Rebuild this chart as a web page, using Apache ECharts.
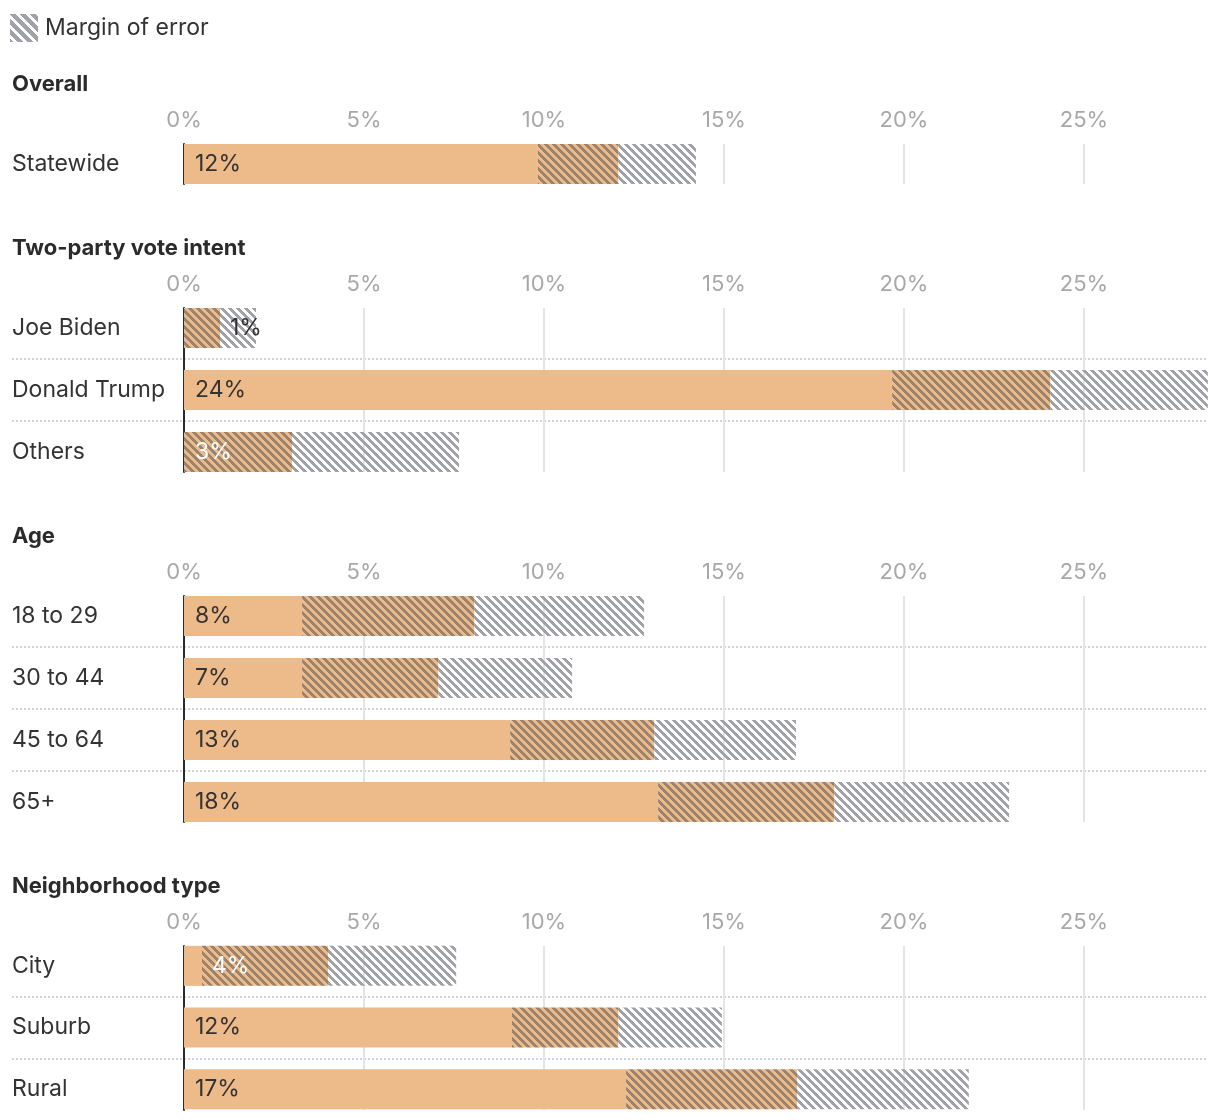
<!DOCTYPE html>
<html>
<head>
<meta charset="utf-8">
<script src="https://cdn.jsdelivr.net/npm/echarts@6/dist/echarts.min.js"></script>
<style>
  html, body { margin: 0; padding: 0; background: #fff; }
  #chart { width: 1220px; height: 1120px; }
</style>
</head>
<body>
<div id="chart"></div>
<script>
// ---------- DATA ----------
const sectionTitles = ['Overall', 'Two-party vote intent', 'Age', 'Neighborhood type'];

const overallCats = ['Statewide'];
const overallLow  = [9.83];
const overallEst  = [12.06];
const overallHigh = [14.22];

const partyCats = ['Joe Biden', 'Donald Trump', 'Others'];
const partyLow  = [0, 19.67, 0];
const partyEst  = [1.0, 24.06, 3.0];
const partyHigh = [2.0, 28.44, 7.64];

const ageCats = ['18 to 29', '30 to 44', '45 to 64', '65+'];
const ageLow  = [3.28, 3.28, 9.06, 13.17];
const ageEst  = [8.06, 7.06, 13.06, 18.06];
const ageHigh = [12.78, 10.78, 17.0, 22.92];

const hoodCats = ['City', 'Suburb', 'Rural'];
const hoodLow  = [0.5, 9.11, 12.28];
const hoodEst  = [4.0, 12.06, 17.03];
const hoodHigh = [7.56, 14.94, 21.8];

const tickValues = [0, 5, 10, 15, 20, 25];
const legendLabel = 'Margin of error';

// ---------- STYLE / LAYOUT ----------
const FONT = 'Inter, "Noto Sans", sans-serif';
const ORANGE = '#edba89';
const PLOT_LEFT = 184, PLOT_RIGHT = 1208, LABEL_LEFT = 12;
const PX_PER_UNIT = 36; // pixels per 1%
const ROW = 62, BAR = 40;
const XMAX = (PLOT_RIGHT - PLOT_LEFT) / PX_PER_UNIT;
const XMIN_A = -(PLOT_LEFT - LABEL_LEFT) / PX_PER_UNIT;

function hexToRgb(h) {
  return [parseInt(h.slice(1, 3), 16), parseInt(h.slice(3, 5), 16), parseInt(h.slice(5, 7), 16)];
}
function makePattern(bg, stripe, s, w) {
  const c = document.createElement('canvas');
  c.width = s; c.height = s;
  const ctx = c.getContext('2d');
  const img = ctx.createImageData(s, s);
  const sc = hexToRgb(stripe);
  const bc = bg ? hexToRgb(bg) : null;
  for (let y = 0; y < s; y++) {
    for (let x = 0; x < s; x++) {
      const k = ((x - y) % s + s) % s;
      const idx = (y * s + x) * 4;
      if (k < w) {
        img.data[idx] = sc[0]; img.data[idx + 1] = sc[1]; img.data[idx + 2] = sc[2]; img.data[idx + 3] = 255;
      } else if (bc) {
        img.data[idx] = bc[0]; img.data[idx + 1] = bc[1]; img.data[idx + 2] = bc[2]; img.data[idx + 3] = 255;
      } else {
        img.data[idx + 3] = 0;
      }
    }
  }
  ctx.putImageData(img, 0, 0);
  return c;
}
const hatchOrange = { image: makePattern(ORANGE, '#9a836f', 8, 4), repeat: 'repeat' };
const hatchGrey = { image: makePattern(null, '#a1a1a8', 8, 4), repeat: 'repeat' };
const hatchLegend = { image: makePattern('#ffffff', '#a1a1a8', 10, 6), repeat: 'repeat' };

const panels = [
  { cats: overallCats, low: overallLow, est: overallEst, high: overallHigh, barTop: 144, titleY: 84 },
  { cats: partyCats, low: partyLow, est: partyEst, high: partyHigh, barTop: 308, titleY: 248 },
  { cats: ageCats, low: ageLow, est: ageEst, high: ageHigh, barTop: 596, titleY: 536 },
  { cats: hoodCats, low: hoodLow, est: hoodEst, high: hoodHigh, barTop: 946, titleY: 886 }
];

const grid = [], xAxis = [], yAxis = [], series = [], graphic = [];

panels.forEach((p, i) => {
  const n = p.cats.length;
  const gA = grid.length;
  grid.push({ left: LABEL_LEFT, width: PLOT_RIGHT - LABEL_LEFT, top: p.barTop - (ROW - BAR) / 2, height: n * ROW, containLabel: false });
  grid.push({ left: PLOT_LEFT, width: PLOT_RIGHT - PLOT_LEFT, top: p.barTop, height: n * ROW - (ROW - BAR), containLabel: false });

  xAxis.push({ gridIndex: gA, type: 'value', min: XMIN_A, max: XMAX, show: false });
  yAxis.push({
    gridIndex: gA, type: 'category', data: p.cats, inverse: true,
    axisLine: { show: false, onZero: false }, axisTick: { show: false },
    axisLabel: { inside: true, margin: 0, align: 'left', color: '#333', fontFamily: FONT, fontSize: 23 },
    splitLine: { show: true, showMinLine: false, showMaxLine: false, lineStyle: { color: '#d4d4d4', width: 2, type: [2, 2] } }
  });

  xAxis.push({
    gridIndex: gA + 1, type: 'value', min: 0, max: XMAX, interval: 5, position: 'top',
    axisLine: { show: false }, axisTick: { show: false },
    axisLabel: { show: true, margin: 13, color: '#a8a8a8', fontFamily: FONT, fontSize: 22, showMaxLabel: false,
      formatter: v => (tickValues.indexOf(v) >= 0 ? v + '%' : '') },
    splitLine: { show: true, showMinLine: false, showMaxLine: false, lineStyle: { color: '#e4e4e4', width: 2 } }
  });
  yAxis.push({
    gridIndex: gA + 1, type: 'value', min: 0, max: 1,
    axisLine: { show: true, onZero: false, lineStyle: { color: '#2b2b2b', width: 2 } },
    axisTick: { show: false }, axisLabel: { show: false }, splitLine: { show: false }
  });

  const d1 = [], d2 = [], d3 = [];
  p.cats.forEach((c, j) => {
    const lo = p.low[j], es = p.est[j], hi = p.high[j];
    const txt = Math.round(es) + '%';
    const baseLabel = { show: true, formatter: txt, fontFamily: FONT, fontSize: 23 };
    const i1 = { value: lo, label: { show: false } };
    const i2 = { value: es - lo, label: { show: false } };
    if (lo * PX_PER_UNIT >= 44) {
      i1.label = Object.assign({}, baseLabel, { position: 'insideLeft', distance: 11, color: '#333' });
    } else if ((es - lo) * PX_PER_UNIT >= 44) {
      i2.label = Object.assign({}, baseLabel, { position: 'insideLeft', distance: lo > 0 ? 10 : 11, color: '#fff' });
    } else {
      i2.label = Object.assign({}, baseLabel, { position: 'right', distance: 10, color: '#333' });
    }
    d1.push(i1); d2.push(i2); d3.push({ value: hi - es });
  });

  const common = { type: 'bar', xAxisIndex: gA, yAxisIndex: gA, stack: 'p' + i, barWidth: BAR, silent: true, z: 3 };
  series.push(Object.assign({}, common, { name: 'Estimate', data: d1, itemStyle: { color: ORANGE } }));
  series.push(Object.assign({}, common, { name: 'Estimate range', data: d2, itemStyle: { color: hatchOrange } }));
  series.push(Object.assign({}, common, { name: legendLabel, data: d3, itemStyle: { color: hatchGrey } }));

  graphic.push({
    type: 'text', left: LABEL_LEFT, top: p.titleY - 11,
    style: { text: sectionTitles[i], fill: '#2b2b2b', font: 'bold 22px ' + FONT }
  });
});

const chart = echarts.init(document.getElementById('chart'), null, { renderer: 'canvas' });
chart.setOption({
  animation: false,
  backgroundColor: '#fff',
  legend: {
    data: [{ name: legendLabel, itemStyle: { color: hatchLegend } }],
    left: 10, top: 14, padding: 0, itemWidth: 28, itemHeight: 28, itemGap: 10,
    icon: 'rect', selectedMode: false,
    textStyle: { color: '#333', fontFamily: FONT, fontSize: 23, padding: [0, 0, 0, 2] }
  },
  grid, xAxis, yAxis, series, graphic
});
</script>
</body>
</html>
